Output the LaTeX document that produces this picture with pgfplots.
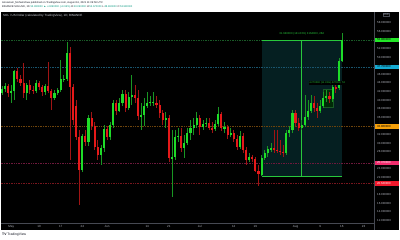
\documentclass[border=0pt]{standalone}
\usepackage{pgfplots}
\pgfplotsset{compat=1.18}
\usepackage{pgfplotstable}
\usepackage{fontspec}
\setmainfont{Liberation Sans}
\definecolor{up}{RGB}{30,220,40}
\definecolor{dn}{RGB}{230,25,25}
\definecolor{upw}{RGB}{25,150,35}
\definecolor{dnw}{RGB}{160,20,20}
\definecolor{axgrey}{RGB}{178,181,190}
\definecolor{sep}{RGB}{70,73,82}
\definecolor{boxfill}{RGB}{5,31,33}
\definecolor{boxline}{RGB}{40,200,60}
\definecolor{lgreen}{RGB}{25,90,38}
\definecolor{lblue}{RGB}{25,85,110}
\definecolor{lorange}{RGB}{110,68,12}
\definecolor{lpink}{RGB}{110,25,60}
\definecolor{lred}{RGB}{120,22,30}
\definecolor{hgreen}{RGB}{35,230,40}
\definecolor{hblue}{RGB}{20,170,210}
\definecolor{horange}{RGB}{245,160,10}
\definecolor{hpink}{RGB}{240,45,110}
\definecolor{hred}{RGB}{240,25,45}
\definecolor{tvtext}{RGB}{19,23,34}
\definecolor{tvgreen}{RGB}{8,153,129}
\definecolor{titletext}{RGB}{209,212,220}

\pgfplotstableread{
i O H L C
0 41.65 43.28 41.18 42.58
1 42.58 43.97 41.88 43.35
2 43.35 43.74 40.72 41.72
3 41.72 43.51 39.32 42.11
4 42.11 46.96 40.02 46.77
5 46.77 47.46 44.21 44.90
6 44.90 45.84 43.28 44.04
7 44.04 48.63 40.49 41.72
8 41.72 43.97 40.02 43.51
9 43.51 44.67 41.42 42.35
10 42.35 43.28 41.42 42.18
11 42.18 44.67 41.65 44.04
12 44.04 44.44 42.35 43.11
13 43.11 43.51 40.95 41.95
14 41.95 43.74 41.18 43.28
15 43.28 48.93 41.65 42.18
16 42.18 42.58 37.69 40.42
17 40.42 42.35 40.02 41.72
18 41.72 42.81 41.18 42.35
19 42.35 49.32 41.88 44.84
20 44.84 45.84 44.21 45.02
21 45.02 53.58 44.44 50.88
22 50.88 52.35 26.06 43.11
23 43.11 43.74 34.20 35.37
24 38.62 40.02 30.72 31.48
25 31.48 33.04 15.60 23.74
26 23.74 32.11 23.27 31.65
27 31.65 33.04 29.32 30.32
28 30.32 36.53 29.32 35.76
29 35.76 37.23 33.04 33.97
30 33.97 34.90 28.39 29.16
31 29.16 30.72 26.06 27.23
32 27.23 29.55 24.90 28.79
33 28.79 34.20 27.92 33.20
34 33.20 33.97 30.72 31.34
35 31.34 34.90 30.72 34.20
36 34.20 40.02 33.51 39.25
37 39.25 40.02 36.53 37.53
38 37.53 40.49 37.23 39.39
39 39.39 42.35 38.62 41.42
40 41.42 42.35 37.23 38.09
41 38.09 41.88 37.69 40.65
42 40.65 45.84 38.86 41.18
43 41.18 43.51 39.32 40.42
44 40.42 42.35 35.37 36.30
45 36.30 39.32 33.04 36.53
46 36.53 40.49 33.97 38.62
47 38.62 41.88 38.09 39.39
48 39.39 40.95 38.62 39.55
49 39.55 41.95 38.62 39.62
50 39.32 40.95 38.09 38.86
51 38.86 40.02 35.83 36.93
52 36.93 37.69 34.20 35.37
53 35.37 37.23 33.51 35.76
54 35.76 36.53 25.60 26.46
55 26.46 33.04 17.53 26.83
56 26.83 33.04 26.06 31.48
57 31.48 33.51 30.25 31.65
58 31.65 33.51 27.92 28.79
59 28.79 31.88 26.53 29.95
60 29.95 33.51 29.55 32.27
61 32.27 35.37 30.72 33.44
62 33.44 35.83 31.88 34.20
63 34.20 37.23 33.51 35.76
64 35.76 36.53 31.88 33.67
65 33.67 35.37 33.04 34.44
66 34.44 35.83 33.67 34.74
67 34.74 35.83 33.04 33.44
68 33.44 34.90 32.41 33.20
69 33.20 35.37 32.81 34.44
70 34.44 38.46 33.97 36.76
71 36.76 37.23 32.81 33.44
72 33.44 34.90 32.41 33.67
73 33.67 34.20 30.88 31.88
74 31.88 33.51 31.41 32.41
75 32.41 33.04 30.32 30.88
76 30.88 31.88 28.39 29.16
77 29.16 32.81 28.55 31.65
78 31.65 32.27 27.76 28.39
79 28.39 29.16 24.90 26.06
80 26.06 27.62 25.60 26.69
81 26.69 27.23 25.60 26.23
82 26.23 26.83 23.27 23.58
83 23.58 24.90 20.02 22.81
84 22.57 27.23 22.34 26.46
85 26.46 28.39 26.06 27.62
86 27.62 29.32 26.83 28.55
87 28.55 29.95 27.92 28.92
88 28.92 33.04 27.76 28.39
89 28.39 33.04 27.62 28.23
90 28.23 30.72 27.23 27.92
91 27.92 29.55 26.83 27.76
92 27.76 33.04 27.23 32.27
93 32.27 33.97 31.41 33.04
94 33.04 37.69 32.34 36.93
95 36.93 37.69 33.97 34.60
96 34.60 35.83 32.81 33.44
97 33.44 35.37 33.04 34.20
98 34.20 41.18 33.74 36.14
99 36.14 40.02 35.37 37.53
100 37.53 41.18 36.93 39.39
101 39.39 40.95 37.23 38.09
102 38.09 39.32 35.83 37.53
103 37.53 40.02 36.99 38.62
104 38.62 41.88 38.09 40.42
105 40.42 42.35 39.55 40.95
106 40.95 41.88 39.32 40.18
107 40.18 43.74 39.55 43.11
108 43.11 44.21 41.65 42.74
109 42.74 49.78 42.35 49.09
110 49.09 55.67 48.86 53.98
}\ohlc

\begin{document}
\begin{tikzpicture}
\useasboundingbox (0,0) rectangle (400bp,240bp);
\fill[white] (0,0) rectangle (400bp,240bp);
\fill[black] (1bp,10bp) rectangle (399bp,228bp);
\begin{axis}[
  at={(1bp,17bp)}, anchor=south west, scale only axis,
  width=373bp, height=211bp,
  xmin=-0.32, xmax=120.39, ymin=11.41, ymax=60.49,
  axis line style={draw=none}, major tick length=0pt, tick style={draw=none},
  xtick={3,12,19,26,34,47,54,64,75,82,95,103,110,117},
  xticklabels={May,10,17,24,Jun,14,21,Jul,12,19,Aug,9,16,23},
  xticklabel style={font=\fontsize{3}{3.6}\selectfont, text=axgrey, anchor=base, inner sep=0pt, yshift=-4.6bp},
  ytick={12,14,16,18,22,24,28,30,32,36,38,40,42,44,46,50,52,56,58},
  yticklabels={12.000000,14.000000,16.000000,18.000000,22.000000,24.000000,28.000000,30.000000,32.000000,36.000000,38.000000,40.000000,42.000000,44.000000,46.000000,50.000000,52.000000,56.000000,58.000000},
  yticklabel pos=right,
  yticklabel style={font=\fontsize{2.9}{3.5}\selectfont, text=axgrey, anchor=west, inner sep=0pt, xshift=3bp},
]
% measuring box
\addplot[fill=boxfill, draw=none, forget plot] coordinates {(84,22.34) (110,22.34) (110,53.98) (84,53.98)} -- cycle;
\addplot[fill=boxfill!60!green!35!black, draw=lgreen, line width=0.4bp, forget plot] coordinates {(104,38.39) (107.3,38.39) (107.3,42.58) (104,42.58)} -- cycle;
% horizontal levels
\addplot[lgreen, line width=0.45bp, dash pattern=on 0.7bp off 1bp, forget plot] coordinates {(-1,53.98) (121,53.98)};
\addplot[lblue, line width=0.45bp, dash pattern=on 0.7bp off 1bp, forget plot] coordinates {(-1,47.70) (121,47.70)};
\addplot[lorange, line width=0.45bp, dash pattern=on 0.7bp off 1bp, forget plot] coordinates {(-1,33.86) (121,33.86)};
\addplot[lpink, line width=0.45bp, dash pattern=on 0.7bp off 1bp, forget plot] coordinates {(-1,25.37) (121,25.37)};
\addplot[lred, line width=0.45bp, dash pattern=on 0.7bp off 1bp, forget plot] coordinates {(-1,20.64) (121,20.64)};
% box borders
\addplot[boxline, line width=0.6bp, forget plot] coordinates {(84,53.98) (110,53.98)};
\addplot[boxline, line width=0.6bp, forget plot] coordinates {(84,22.34) (110,22.34)};
\addplot[boxline, line width=0.5bp, forget plot] coordinates {(97,22.34) (97,53.98)};
% up candles
\addplot[draw=none, mark=none, forget plot,
  restrict expr to domain={\thisrow{C}-\thisrow{O}}{0:100},
  error bars/.cd, y dir=both, y explicit, error mark=none,
  error bar style={draw=upw, line width=0.6bp}]
  table[x=i, y expr={(\thisrow{H}+\thisrow{L})/2}, y error expr={(\thisrow{H}-\thisrow{L})/2}] {\ohlc};
\addplot[draw=none, mark=none, forget plot,
  restrict expr to domain={\thisrow{C}-\thisrow{O}}{0:100},
  error bars/.cd, y dir=both, y explicit, error mark=none,
  error bar style={draw=up, line width=2.1bp}]
  table[x=i, y expr={(\thisrow{O}+\thisrow{C})/2}, y error expr={max(abs(\thisrow{C}-\thisrow{O})/2,0.07)}] {\ohlc};
% down candles
\addplot[draw=none, mark=none, forget plot,
  restrict expr to domain={\thisrow{O}-\thisrow{C}}{0.00001:100},
  error bars/.cd, y dir=both, y explicit, error mark=none,
  error bar style={draw=dnw, line width=0.6bp}]
  table[x=i, y expr={(\thisrow{H}+\thisrow{L})/2}, y error expr={(\thisrow{H}-\thisrow{L})/2}] {\ohlc};
\addplot[draw=none, mark=none, forget plot,
  restrict expr to domain={\thisrow{O}-\thisrow{C}}{0.00001:100},
  error bars/.cd, y dir=both, y explicit, error mark=none,
  error bar style={draw=dn, line width=2.1bp}]
  table[x=i, y expr={(\thisrow{O}+\thisrow{C})/2}, y error expr={max(abs(\thisrow{C}-\thisrow{O})/2,0.07)}] {\ohlc};
% measure labels
\node[text=boxline, font=\fontsize{2.8}{3.4}\selectfont, inner sep=0pt] at (axis cs:97,55.37) {31.640000 (141.63\%) 3164000, 26d};
\node[fill=black, text=boxline, font=\fontsize{2.6}{3.2}\selectfont, inner sep=0.6bp] at (axis cs:105.2,44.04) {4.270000 (11.31\%) 427000, 7d};
\coordinate (pg) at (axis cs:0,53.98);
\coordinate (pb) at (axis cs:0,47.70);
\coordinate (po) at (axis cs:0,33.86);
\coordinate (pp) at (axis cs:0,25.37);
\coordinate (pr) at (axis cs:0,20.64);
\end{axis}
\draw[sep, line width=0.5bp] (374bp,10bp) -- (374bp,228bp);
\draw[sep, line width=0.5bp] (1bp,17bp) -- (374bp,17bp);
\coordinate (R) at (374.6bp,0);
\tikzset{hl/.style={anchor=west, inner xsep=2.2bp, inner ysep=0pt, minimum height=4.6bp, text width=19.6bp, align=left, font=\fontsize{2.9}{3.5}\selectfont}}
\node[hl, fill=hgreen, text=black] at (pg -| R) {53.980000};
\node[hl, fill=hblue, text=black] at (pb -| R) {47.700000};
\node[hl, fill=horange, text=black] at (po -| R) {33.860000};
\node[hl, fill=hpink, text=white] at (pp -| R) {25.370000};
\node[hl, fill=hred, text=white] at (pr -| R) {20.640000};
\node[draw=sep, line width=0.3bp, text=axgrey, font=\fontsize{2.5}{3}\selectfont, inner sep=0.5bp] at (386bp,225.6bp) {USD};
% titles
\node[anchor=west, inner sep=0pt, text=titletext, font=\fontsize{3}{3.6}\selectfont] at (3bp,224.5bp) {SOL / US Dollar (calculated by TradingView), 1D, BINANCE};
\node[anchor=west, inner sep=0pt, text=tvtext, font=\fontsize{2.6}{3.2}\selectfont] at (2bp,237.6bp) {Annoetam\_Mohamshwa published on TradingView.com, August 16, 2021 11:09:59 UTC};
\node[anchor=west, inner sep=0pt, text=tvtext, font=\fontsize{2.6}{3.2}\selectfont] at (2bp,233bp) {BINANCE:SOLUSD, 1D \textcolor{tvgreen}{53.980000 ▲ +4.890000 (+9.96\%)} O:\textcolor{tvgreen}{49.090000} H:\textcolor{tvgreen}{55.670000} L:\textcolor{tvgreen}{48.860000} C:\textcolor{tvgreen}{53.980000}};
\node[anchor=west, inner sep=0pt, text=tvtext, font=\fontsize{3.4}{4}\selectfont] at (2bp,5bp) {\textbf{TV} TradingView};
\end{tikzpicture}
\end{document}
